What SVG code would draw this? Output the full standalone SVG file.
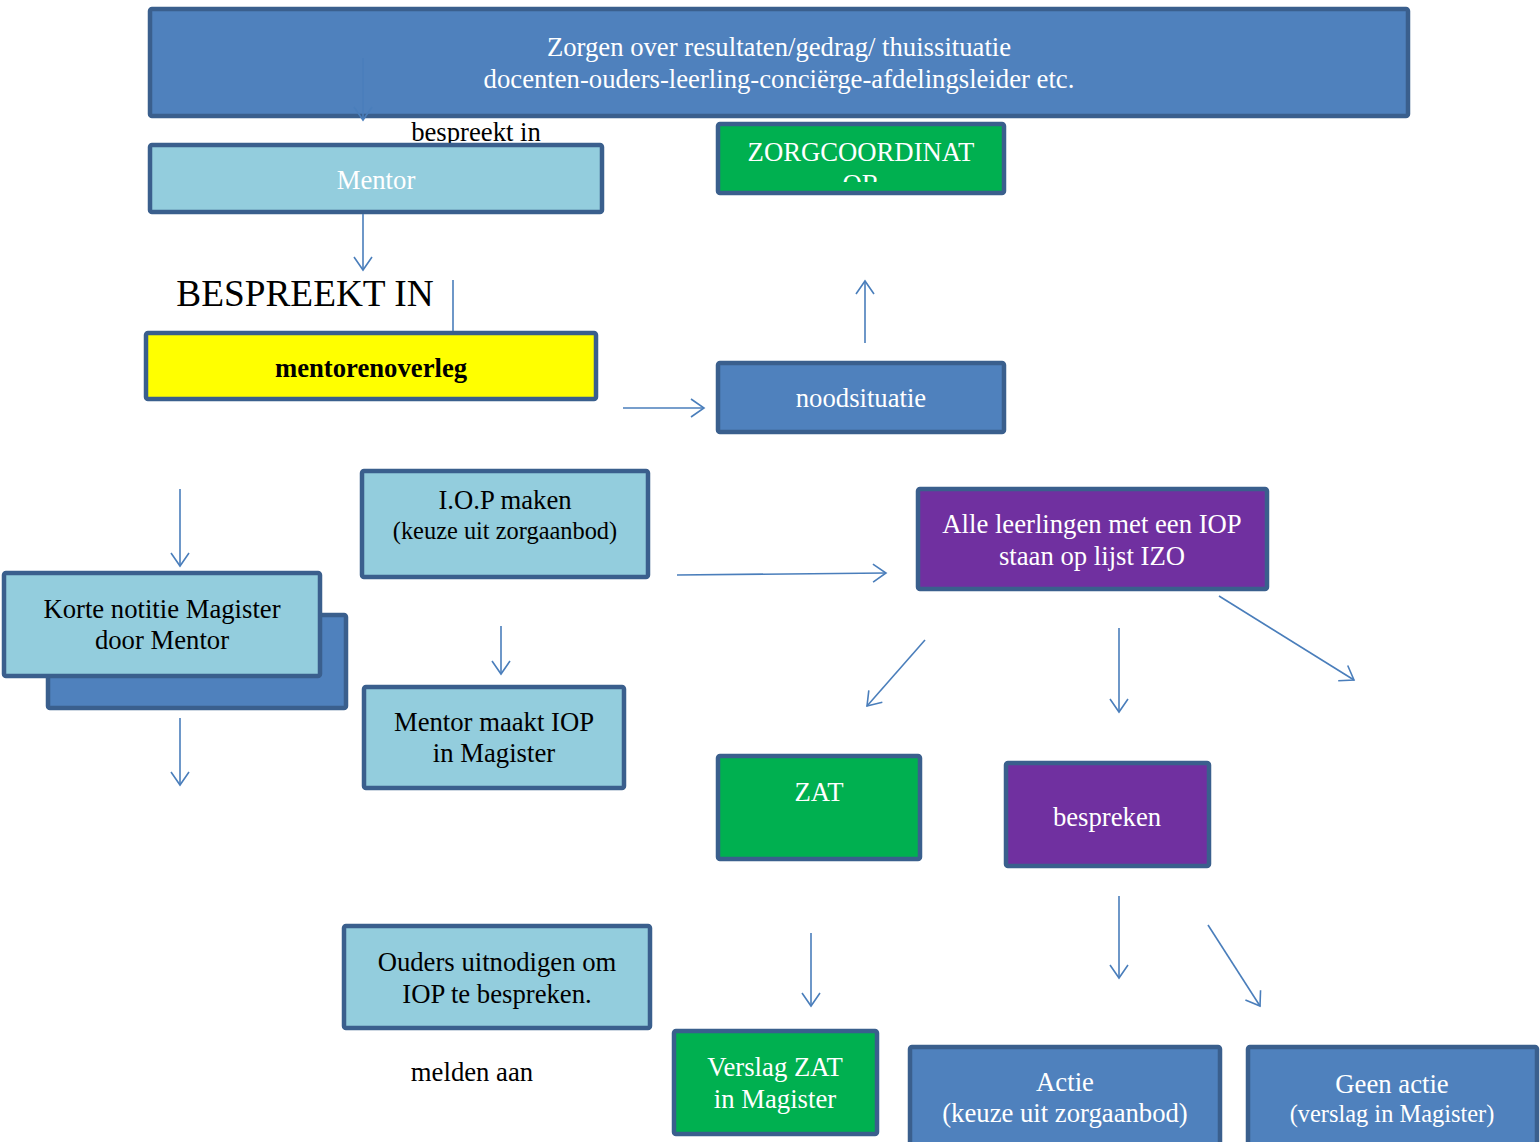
<svg xmlns="http://www.w3.org/2000/svg" width="1540" height="1142" viewBox="0 0 1540 1142">
<style>
.box{stroke:#3a5f8d;stroke-width:4.5}
.blue{fill:#4f81bd}
.light{fill:#93cddd}
.green{fill:#00b050}
.purple{fill:#7030a0}
.yellow{fill:#ffff00}
text{font-family:"Liberation Serif","Times New Roman",serif;font-size:26.7px;text-anchor:middle}
.w{fill:#ffffff}
.k{fill:#000000}
.s24{font-size:24.4px}
.con{stroke:#4a7ebb;stroke-width:1.6;fill:none}
</style>
<defs>
<marker id="ah" markerUnits="userSpaceOnUse" markerWidth="16" markerHeight="22" refX="14" refY="11" orient="auto">
<path d="M1,2 L14,11 L1,20" fill="none" stroke="#4a7ebb" stroke-width="1.6"/>
</marker>
<clipPath id="zcClip"><rect x="722" y="128" width="278" height="54"/></clipPath>
</defs>

<g id="node-zorgen">
<rect class="box blue" x="150" y="9" width="1258" height="107" rx="2"/>
<text class="w" x="779" y="56">Zorgen over resultaten/gedrag/ thuissituatie</text>
<text class="w" x="779" y="88">docenten-ouders-leerling-conciërge-afdelingsleider etc.</text>
</g>

<g id="label-bespreekt-in">
<text class="k" x="476" y="141">bespreekt in</text>
</g>

<g id="node-mentor">
<rect class="box light" x="150" y="145" width="452" height="67" rx="2"/>
<text class="w" x="376" y="189">Mentor</text>
</g>

<g id="node-zorgcoordinator">
<rect class="box green" x="718" y="124" width="286" height="69" rx="2"/>
<g clip-path="url(#zcClip)">
<text class="w" x="861" y="161">ZORGCOORDINAT</text>
<text class="w" x="861" y="193">OR</text>
</g>
</g>

<g id="label-bespreekt-in-caps">
<text class="k" x="305" y="306" style="font-size:37.3px">BESPREEKT IN</text>
</g>

<g id="node-mentorenoverleg">
<rect class="box yellow" x="146" y="333" width="450" height="66" rx="2"/>
<text class="k" x="371" y="377" style="font-weight:bold">mentorenoverleg</text>
</g>

<g id="node-noodsituatie">
<rect class="box blue" x="718" y="363" width="286" height="69" rx="2"/>
<text class="w" x="861" y="407">noodsituatie</text>
</g>

<g id="node-korte-notitie">
<rect class="box blue" x="48" y="615" width="298" height="93" rx="2"/>
<rect class="box light" x="4" y="573" width="316" height="103" rx="2"/>
<text class="k" x="162" y="618">Korte notitie Magister</text>
<text class="k" x="162" y="649">door Mentor</text>
</g>

<g id="node-iop-maken">
<rect class="box light" x="362" y="471" width="286" height="106" rx="2"/>
<text class="k" x="505" y="509">I.O.P maken</text>
<text class="k s24" x="505" y="539">(keuze uit zorgaanbod)</text>
</g>

<g id="node-alle-leerlingen">
<rect class="box purple" x="918" y="489" width="349" height="100" rx="2"/>
<text class="w" x="1092" y="533">Alle leerlingen met een IOP</text>
<text class="w" x="1092" y="565">staan op lijst IZO</text>
</g>

<g id="node-mentor-maakt-iop">
<rect class="box light" x="364" y="687" width="260" height="101" rx="2"/>
<text class="k" x="494" y="731">Mentor maakt IOP</text>
<text class="k" x="494" y="762">in Magister</text>
</g>

<g id="node-zat">
<rect class="box green" x="718" y="756" width="202" height="103" rx="2"/>
<text class="w" x="819" y="801">ZAT</text>
</g>

<g id="node-bespreken">
<rect class="box purple" x="1006" y="763" width="203" height="103" rx="2"/>
<text class="w" x="1107" y="826">bespreken</text>
</g>

<g id="node-ouders">
<rect class="box light" x="344" y="926" width="306" height="102" rx="2"/>
<text class="k" x="497" y="971">Ouders uitnodigen om</text>
<text class="k" x="497" y="1003">IOP te bespreken.</text>
</g>

<g id="label-melden-aan">
<text class="k" x="472" y="1081">melden aan</text>
</g>

<g id="node-verslag-zat">
<rect class="box green" x="674" y="1031" width="203" height="103" rx="2"/>
<text class="w" x="775" y="1076">Verslag ZAT</text>
<text class="w" x="775" y="1108">in Magister</text>
</g>

<g id="node-actie">
<rect class="box blue" x="910" y="1047" width="310" height="110" rx="2"/>
<text class="w" x="1065" y="1091">Actie</text>
<text class="w" x="1065" y="1122">(keuze uit zorgaanbod)</text>
</g>

<g id="node-geen-actie">
<rect class="box blue" x="1248" y="1047" width="289" height="110" rx="2"/>
<text class="w" x="1392" y="1093">Geen actie</text>
<text class="w s24" x="1392" y="1122">(verslag in Magister)</text>
</g>

<g id="connectors">
<line class="con" x1="363" y1="58" x2="363" y2="120" marker-end="url(#ah)"/>
<line class="con" x1="363" y1="214" x2="363" y2="270" marker-end="url(#ah)"/>
<line class="con" x1="453" y1="280" x2="453" y2="331"/>
<line class="con" x1="623" y1="408" x2="704" y2="408" marker-end="url(#ah)"/>
<line class="con" x1="865" y1="343" x2="865" y2="281" marker-end="url(#ah)"/>
<line class="con" x1="180" y1="489" x2="180" y2="566" marker-end="url(#ah)"/>
<line class="con" x1="180" y1="718" x2="180" y2="785" marker-end="url(#ah)"/>
<line class="con" x1="677" y1="575" x2="886" y2="573" marker-end="url(#ah)"/>
<line class="con" x1="501" y1="626" x2="501" y2="674" marker-end="url(#ah)"/>
<line class="con" x1="925" y1="640" x2="867" y2="706" marker-end="url(#ah)"/>
<line class="con" x1="1119" y1="628" x2="1119" y2="712" marker-end="url(#ah)"/>
<line class="con" x1="1219" y1="596" x2="1354" y2="680" marker-end="url(#ah)"/>
<line class="con" x1="811" y1="933" x2="811" y2="1006" marker-end="url(#ah)"/>
<line class="con" x1="1119" y1="896" x2="1119" y2="978" marker-end="url(#ah)"/>
<line class="con" x1="1208" y1="925" x2="1260" y2="1006" marker-end="url(#ah)"/>
</g>
</svg>
